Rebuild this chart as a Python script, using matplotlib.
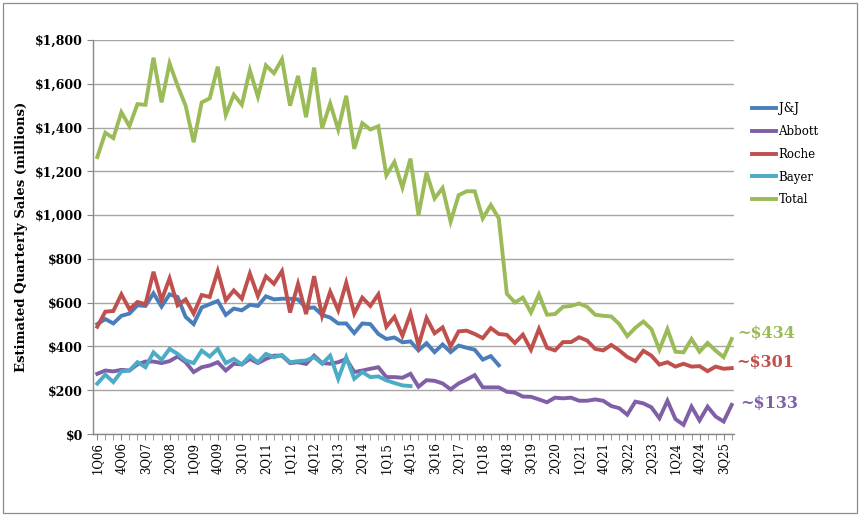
import matplotlib
matplotlib.use("Agg")
import matplotlib.pyplot as plt
from matplotlib.patches import Rectangle
from matplotlib.ticker import FuncFormatter, MultipleLocator
import numpy as np

quarters = [f"{q}Q{y:02d}" for y in range(6, 26) for q in range(1, 5)]  # 1Q06 .. 4Q25

jnj = [502, 525, 505, 540, 550, 588, 585, 643, 582, 638, 626, 535, 502, 578, 593, 608, 544,
       573, 565, 590, 585, 629, 615, 618, 618, 615, 575, 578, 544, 532, 505, 505, 461, 505,
       502, 457, 434, 441, 419, 423, 382, 415, 374, 409, 374, 404, 394, 385, 340, 356, 314]

abbott = [275, 290, 286, 293, 290, 318, 331, 331, 324, 333, 354, 328, 283, 305, 313, 328, 290,
          321, 318, 343, 324, 343, 358, 358, 324, 328, 320, 358, 324, 321, 328, 343, 283, 290,
          298, 305, 260, 260, 257, 275, 216, 246, 243, 231, 204, 231, 249, 269, 213, 213, 213,
          193, 189, 171, 170, 158, 145, 166, 163, 166, 152, 152, 158, 152, 128, 118, 88, 148,
          140, 122, 72, 152, 68, 42, 125, 62, 125, 80, 57, 133]

roche = [490, 559, 562, 638, 570, 603, 593, 741, 611, 711, 588, 615, 550, 635, 626, 744, 611,
         656, 618, 733, 630, 720, 686, 744, 555, 686, 548, 721, 540, 650, 565, 691, 550, 623,
         585, 638, 490, 535, 449, 550, 404, 530, 460, 487, 400, 469, 472, 457, 438, 484, 457,
         453, 416, 454, 385, 480, 394, 382, 420, 420, 442, 427, 389, 382, 407, 382, 352, 333,
         380, 358, 317, 328, 308, 321, 308, 310, 287, 308, 298, 301]

bayer = [230, 271, 237, 286, 290, 328, 305, 373, 339, 389, 366, 336, 324, 381, 354, 389, 324,
         343, 318, 358, 328, 366, 351, 361, 328, 333, 336, 351, 321, 358, 252, 351, 252, 283,
         260, 263, 245, 233, 222, 219]

total = [1265, 1376, 1352, 1470, 1406, 1507, 1504, 1719, 1515, 1693, 1591, 1500, 1333, 1515,
         1533, 1678, 1458, 1550, 1504, 1662, 1541, 1684, 1648, 1712, 1500, 1636, 1447, 1674,
         1397, 1510, 1391, 1545, 1303, 1420, 1391, 1406, 1182, 1243, 1126, 1258, 1000, 1194,
         1076, 1124, 970, 1091, 1109, 1109, 985, 1046, 985, 641, 601, 623, 555, 638, 545, 548,
         581, 585, 596, 581, 545, 540, 537, 502, 447, 485, 514, 479, 385, 479, 376, 373, 434,
         376, 416, 381, 351, 434]

series_names = ["J&J", "Abbott", "Roche", "Bayer", "Total"]
series_vals = [jnj, abbott, roche, bayer, total]
colors = ["#4A7EBB", "#7F5FA6", "#C0504D", "#4BACC6", "#9BBB59"]

end_labels = ["~$434", "~$301", "~$133"]
end_series = [total, roche, abbott]
end_colors = ["#9BBB59", "#C0504D", "#7F5FA6"]
end_offsets = [(4, 4), (3, 4), (6, 1)]

serif = ["DejaVu Serif"]

fig = plt.figure(figsize=(8.6, 5.16), dpi=100)
ax = fig.add_axes([0.1078, 0.1589, 0.7457, 0.7636])

handles = []
for name, vals, c in zip(series_names, series_vals, colors):
    xs = np.arange(len(vals))
    h, = ax.plot(xs, vals, color=c, lw=2.8, solid_joinstyle="miter", label=name)
    handles.append(h)

ax.set_xlim(-0.57, len(quarters) - 1 + 0.29)
ax.set_ylim(0, 1800)
ax.yaxis.set_major_locator(MultipleLocator(200))
ax.yaxis.set_major_formatter(FuncFormatter(lambda v, p: f"${int(v):,}"))
ax.grid(axis="y", color="#A6A6A6", lw=1.0)
ax.set_axisbelow(True)

tick_pos = list(range(0, len(quarters), 3))
ax.set_xticks(tick_pos)
ax.set_xticklabels([quarters[i] for i in tick_pos], rotation=90, fontsize=8.5,
                   family=serif)
ax.set_xticks(range(len(quarters)), minor=True)
ax.tick_params(axis="x", which="both", length=4, color="#888888", direction="out", pad=2)
ax.tick_params(axis="y", length=4, color="#888888", direction="out", pad=3)
for lab in ax.get_yticklabels():
    lab.set_family(serif)
    lab.set_fontweight("bold")
    lab.set_fontsize(9)

for s in ["top", "right"]:
    ax.spines[s].set_visible(False)
for s in ["left", "bottom"]:
    ax.spines[s].set_color("#888888")
    ax.spines[s].set_linewidth(1.0)

ax.set_ylabel("Estimated Quarterly Sales (millions)", family=serif, fontweight="bold",
              fontsize=9.5, labelpad=5)

for lab, vals, c, off in zip(end_labels, end_series, end_colors, end_offsets):
    ax.annotate(lab, xy=(len(vals) - 1, vals[-1]), xytext=off, textcoords="offset points",
                va="center", ha="left", color=c, fontsize=11.5, fontweight="bold",
                family=serif, annotation_clip=False)

leg = fig.legend(handles=handles, loc="upper left", bbox_to_anchor=(0.862, 0.822),
                 frameon=False, prop={"family": serif, "size": 8.5},
                 handlelength=2.0, handletextpad=0.25, labelspacing=0.82)

fig.patches.append(Rectangle((0.003, 0.006), 0.994, 0.988, transform=fig.transFigure,
                             fill=False, edgecolor="#8C8C8C", lw=0.9))

fig.savefig("out.png", dpi=100)
